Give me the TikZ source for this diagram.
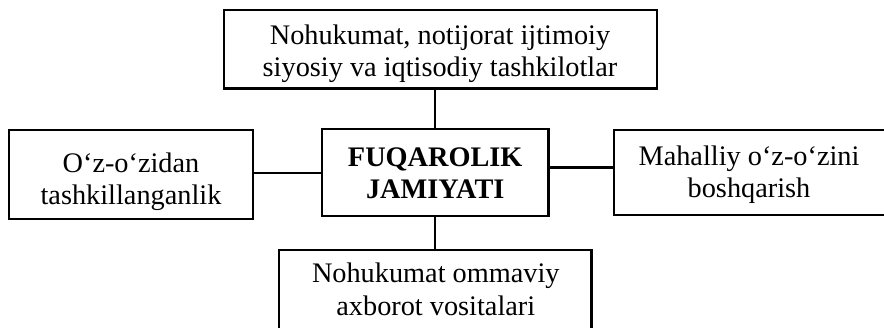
\documentclass[tikz,border=0pt]{standalone}
\usepackage{fontspec}
\setmainfont{Liberation Serif}
\begin{document}
\begin{tikzpicture}[x=1pt,y=1pt,
  box/.style={draw=black,line width=2.4pt,inner sep=0pt},
  txt/.style={align=center,inner sep=0pt,anchor=base,
    font=\fontsize{28.3}{32.5}\selectfont},
  conn/.style={draw=black,line width=2.4pt}]
\useasboundingbox (0,0) rectangle (884,327);
% boxes
\node[box,minimum width=433,minimum height=78.5] (top) at (440.5,277.75) {};
\node[box,minimum width=226.5,minimum height=87] (mid) at (435.25,154.5) {};
\node[box,minimum width=244,minimum height=89] (left) at (131,152.5) {};
\node[box,minimum width=280,minimum height=85] (right) at (754,154.5) {};
\node[box,minimum width=312.5,minimum height=90] (bot) at (435.25,32) {};
% texts (anchor base = baseline of last line)
\node[txt] (toptxt) at (440,250.3)
  {Nohukumat, notijorat ijtimoiy\\siyosiy va iqtisodiy tashkilotlar};
\node[txt,font=\fontsize{28.3}{32.5}\selectfont\bfseries] (midtxt) at (435.25,128)
  {FUQAROLIK\\JAMIYATI};
\node[txt] (lefttxt) at (131,122) {O‘z-o‘zidan\\tashkillanganlik};
\node[txt] (righttxt) at (749,129) {Mahalliy o‘z-o‘zini\\boshqarish};
\node[txt] (bottxt) at (435.8,12) {Nohukumat ommaviy\\axborot vositalari};
% connectors
\draw[conn] (mid.north) -- (mid.north |- top.south);
\draw[conn] (mid.south) -- (mid.south |- bot.north);
\draw[conn] ([yshift=-0.8pt]mid.west) -- ([yshift=-0.8pt]mid.west -| left.east);
\draw[conn] ([yshift=4.8pt]mid.east) -- ([yshift=4.8pt]mid.east -| right.west);
\end{tikzpicture}
\end{document}
